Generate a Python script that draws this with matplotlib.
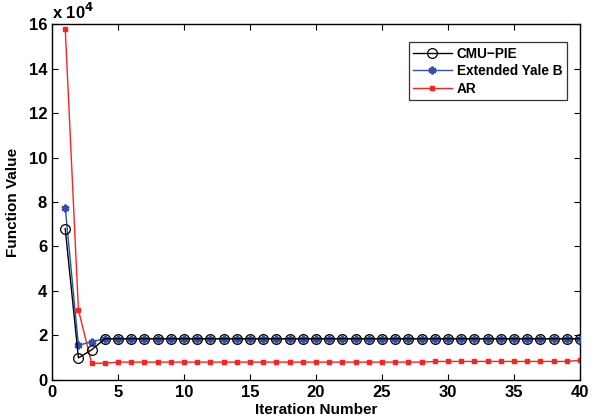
import numpy as np
import matplotlib
matplotlib.use("Agg")
import matplotlib.pyplot as plt

plt.rcParams['font.family'] = ['Liberation Sans', 'DejaVu Sans']
plt.rcParams['font.weight'] = 'bold'

# Function values in units of 1e4
iterations = np.arange(1, 41)
cmu_pie = [6.8, 0.99, 1.35] + [1.85] * 37
yale_b = [7.75, 1.55, 1.72] + [1.85] * 37
ar = [15.8, 3.15, 0.75, 0.75] + [0.8] * 24 + [0.83] * 11 + [0.88]

fig = plt.figure(figsize=(5.98, 4.17), dpi=100)
ax = fig.add_axes([0.087, 0.089, 0.883, 0.853])

ax.plot(iterations, ar, color='#ff2020', marker='s', markersize=2.2,
        linewidth=1.0, label='AR', zorder=2)
ax.plot(iterations, yale_b, color='#3050b0', marker=(6, 2, 0), markersize=5.5,
        markeredgewidth=1.8, linewidth=1.0, label='Extended Yale B', zorder=3)
ax.plot(iterations, cmu_pie, color='black', marker='o', markersize=7,
        markerfacecolor='none', markeredgewidth=0.9, linewidth=1.0,
        label='CMU\u2212PIE', zorder=4)

ax.set_xlim(0, 40)
ax.set_ylim(0, 16)
ax.set_xticks(range(0, 41, 5))
ax.set_yticks(range(0, 17, 2))
ax.tick_params(direction='in', top=True, right=True, length=4,
               labelsize=12, width=0.8)
for lab in ax.get_xticklabels() + ax.get_yticklabels():
    lab.set_fontweight('bold')
for sp in ax.spines.values():
    sp.set_linewidth(1.0)

ax.text(0.0, 1.005, 'x 10$^{4}$', transform=ax.transAxes, fontsize=12,
        fontweight='bold', ha='left', va='bottom')

ax.set_xlabel('Iteration Number', fontsize=11, fontweight='bold', labelpad=2)
ax.set_ylabel('Function Value', fontsize=11, fontweight='bold', labelpad=6)

handles, labels = ax.get_legend_handles_labels()
leg = ax.legend(handles[::-1], labels[::-1], loc='upper right',
                bbox_to_anchor=(0.976, 0.95), borderaxespad=0, frameon=True,
                fancybox=False, edgecolor='black', handlelength=2.8,
                handletextpad=0.4, borderpad=0.35, labelspacing=0.25,
                prop={'weight': 'bold', 'size': 9.8})
leg.get_frame().set_linewidth(0.9)

fig.savefig('out.png', dpi=100)
